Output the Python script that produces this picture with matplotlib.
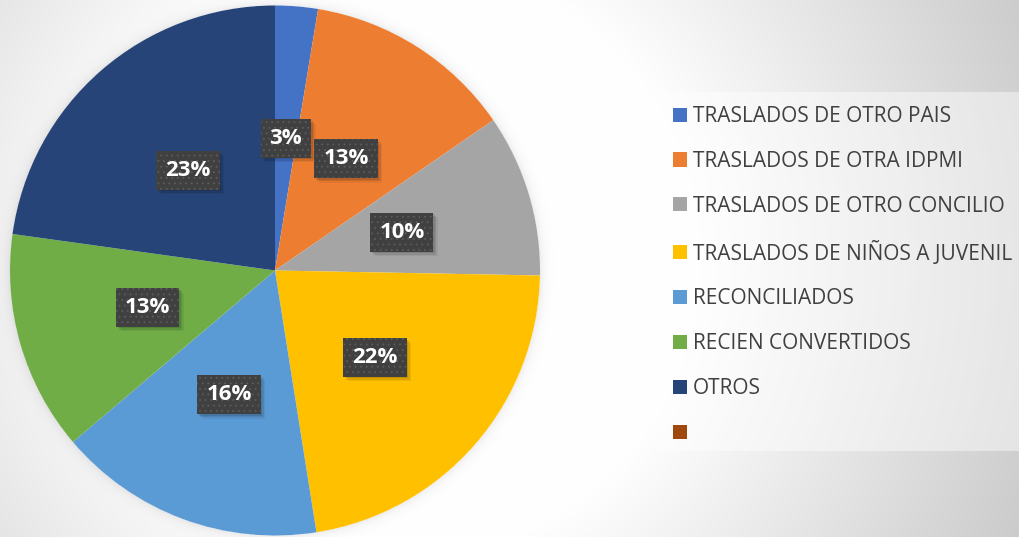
import numpy as np
import matplotlib
matplotlib.use("Agg")
import matplotlib.pyplot as plt
import matplotlib.transforms as mtransforms
from matplotlib.patches import Rectangle

categories = ["TRASLADOS DE OTRO PAIS", "TRASLADOS DE OTRA IDPMI",
              "TRASLADOS DE OTRO CONCILIO", "TRASLADOS DE NIÑOS A JUVENIL",
              "RECONCILIADOS", "RECIEN CONVERTIDOS", "OTROS", ""]
values = [2.6, 12.8, 9.9, 22.2, 16.3, 13.4, 22.8, 0]
colors = ["#4472C4", "#ED7D31", "#A5A5A5", "#FFC000",
          "#5B9BD5", "#70AD47", "#264478", "#9E480E"]

W, H = 1020, 537
CX, CY, R = 275, 270.5, 265

plt.rcParams["hatch.linewidth"] = 0.6

fig = plt.figure(figsize=(W / 100, H / 100), dpi=100)

# grey radial background with a soft halo round the pie
bg = fig.add_axes([0, 0, 1, 1])
yy, xx = np.mgrid[0:H, 0:W] + 0.5
d = np.hypot(xx - 400, yy - 260)
shade = np.clip(1 - 0.00053 * np.clip(d - 294, 0, None), 0.77, 1)
rp = np.hypot(xx - CX, yy - CY) - R
halo = np.where(rp > 0, 0.07 * np.exp(-rp / 5), 0)
shade = shade - halo
bg.imshow(np.dstack([shade] * 3), aspect="auto", extent=[0, W, H, 0],
          vmin=0, vmax=1)
bg.set_xlim(0, W)
bg.set_ylim(H, 0)
bg.axis("off")

# legend panel
bg.add_patch(Rectangle((661, 92), W - 661, 359, facecolor="white",
                       alpha=0.45, edgecolor="none"))

ax = fig.add_axes([(CX - R) / W, (H - CY - R) / H, 2 * R / W, 2 * R / H])
ax.set_aspect("equal")
wedges, texts, autotexts = ax.pie(
    values, colors=colors, startangle=90, counterclock=False,
    autopct=lambda p: f"{p:.0f}%" if p > 0.5 else "",
    pctdistance=0.5, radius=1.0,
    wedgeprops=dict(linewidth=0),
    textprops=dict(color="white", fontsize=16, fontweight="bold",
                   family="Open Sans"))
ax.set_xlim(-1, 1)
ax.set_ylim(-1, 1)

for at in autotexts:
    if at.get_text() == "":
        at.set_visible(False)
        continue
    at.set_zorder(5)
    at.set_bbox(dict(boxstyle="square,pad=0.4", facecolor="#404040",
                     edgecolor="#5c5c5c", linewidth=0, hatch="..."))

# soft drop shadow behind each label box (display coords)
fig.canvas.draw()
renderer = fig.canvas.get_renderer()
for at in autotexts:
    if not at.get_visible():
        continue
    bb = at.get_bbox_patch().get_window_extent(renderer)
    for off, a in [(1.5, 0.10), (3, 0.09), (4.5, 0.06)]:
        ax.add_patch(Rectangle((bb.x0 + off, bb.y0 - off), bb.width, bb.height,
                               transform=mtransforms.IdentityTransform(),
                               facecolor="black", alpha=a, edgecolor="none",
                               zorder=4))

leg = fig.legend(wedges, categories, loc="upper left",
                 bbox_to_anchor=(673 / W, 1 - 106 / H),
                 frameon=False, borderpad=0, borderaxespad=0,
                 handlelength=0.67, handleheight=0.67, handletextpad=0.3,
                 labelspacing=1.145,
                 prop=dict(family="Open Sans", size=15))
for txt in leg.get_texts():
    txt.set_color("#404040")

fig.savefig("out.png", dpi=100)
